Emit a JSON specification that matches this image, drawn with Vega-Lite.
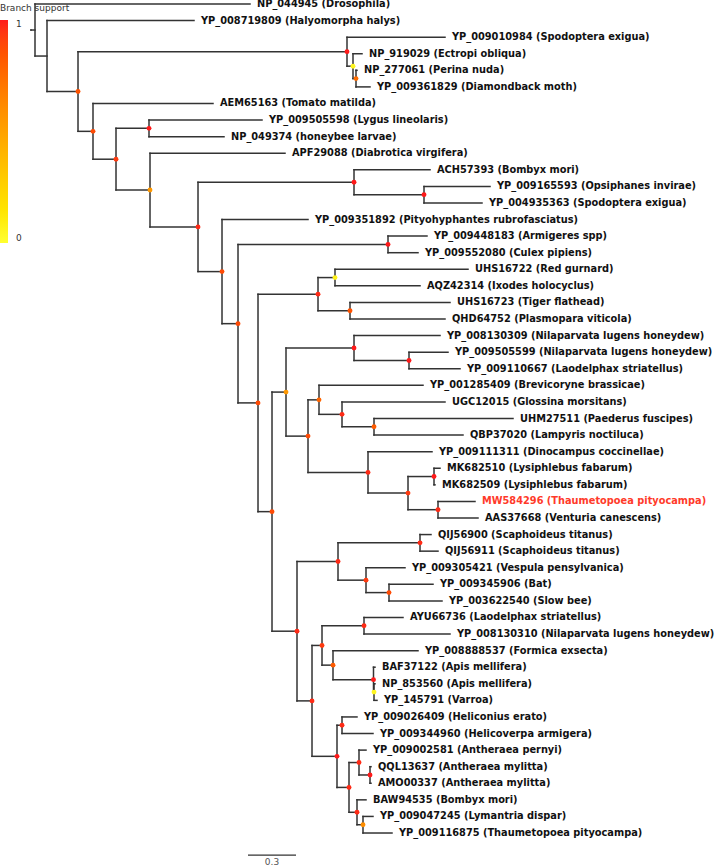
{
  "$schema": "https://vega.github.io/schema/vega-lite/v6.json",
  "width": 714,
  "height": 867,
  "autosize": {"type": "none"},
  "padding": 0,
  "background": "white",
  "view": {"stroke": null},
  "config": {"font": "DejaVu Sans"},
  "datasets": {
    "nodes": [
      {"id": "R0", "parent": null, "x": -0.025, "y": 2.5695, "kind": "root", "support": null},
      {"id": "A", "parent": "R0", "x": 0, "y": 2.5695, "kind": "node", "support": null},
      {"id": "B", "parent": "A", "x": 0.075, "y": 4.1389, "kind": "node", "support": null},
      {"id": "L1", "parent": "A", "x": 1.3438, "y": 1, "kind": "leaf", "name": "NP_044945 (Drosophila)"},
      {"id": "L2", "parent": "B", "x": 0.9938, "y": 2, "kind": "leaf", "name": "YP_008719809 (Halyomorpha halys)"},
      {"id": "C", "parent": "B", "x": 0.2688, "y": 6.2778, "kind": "node", "support": 0.85},
      {"id": "D", "parent": "C", "x": 1.95, "y": 3.875, "kind": "node", "support": 1},
      {"id": "L3", "parent": "D", "x": 2.5625, "y": 3, "kind": "leaf", "name": "YP_009010984 (Spodoptera exigua)"},
      {"id": "AW", "parent": "D", "x": 1.9875, "y": 4.75, "kind": "node", "support": 0.05},
      {"id": "L4", "parent": "AW", "x": 2.0438, "y": 4, "kind": "leaf", "name": "NP_919029 (Ectropi obliqua)"},
      {"id": "AX", "parent": "AW", "x": 2.0063, "y": 5.5, "kind": "node", "support": 0.75},
      {"id": "L5", "parent": "AX", "x": 2.0125, "y": 5, "kind": "leaf", "name": "NP_277061 (Perina nuda)"},
      {"id": "L6", "parent": "AX", "x": 2.0938, "y": 6, "kind": "leaf", "name": "YP_009361829 (Diamondback moth)"},
      {"id": "E", "parent": "C", "x": 0.3625, "y": 8.6806, "kind": "node", "support": 0.88},
      {"id": "L7", "parent": "E", "x": 1.1125, "y": 7, "kind": "leaf", "name": "AEM65163 (Tomato matilda)"},
      {"id": "F", "parent": "E", "x": 0.5063, "y": 10.3612, "kind": "node", "support": 0.93},
      {"id": "G", "parent": "F", "x": 0.7125, "y": 8.5, "kind": "node", "support": 1},
      {"id": "L8", "parent": "G", "x": 1.4188, "y": 8, "kind": "leaf", "name": "YP_009505598 (Lygus lineolaris)"},
      {"id": "L9", "parent": "G", "x": 1.1813, "y": 9, "kind": "leaf", "name": "NP_049374 (honeybee larvae)"},
      {"id": "H", "parent": "F", "x": 0.7188, "y": 12.2224, "kind": "node", "support": 0.55},
      {"id": "L10", "parent": "H", "x": 1.5625, "y": 10, "kind": "leaf", "name": "APF29088 (Diabrotica virgifera)"},
      {"id": "I", "parent": "H", "x": 1.0188, "y": 14.4448, "kind": "node", "support": 0.97},
      {"id": "J", "parent": "I", "x": 1.9938, "y": 11.75, "kind": "node", "support": 1},
      {"id": "L11", "parent": "J", "x": 2.4688, "y": 11, "kind": "leaf", "name": "ACH57393 (Bombyx mori)"},
      {"id": "nL", "parent": "J", "x": 2.4313, "y": 12.5, "kind": "node", "support": 1},
      {"id": "L12", "parent": "nL", "x": 2.8438, "y": 12, "kind": "leaf", "name": "YP_009165593 (Opsiphanes invirae)"},
      {"id": "L13", "parent": "nL", "x": 2.7938, "y": 13, "kind": "leaf", "name": "YP_004935363 (Spodoptera exigua)"},
      {"id": "K", "parent": "I", "x": 1.1688, "y": 17.1396, "kind": "node", "support": 0.88},
      {"id": "L14", "parent": "K", "x": 1.7063, "y": 14, "kind": "leaf", "name": "YP_009351892 (Pityohyphantes rubrofasciatus)"},
      {"id": "M", "parent": "K", "x": 1.2688, "y": 20.2793, "kind": "node", "support": 0.88},
      {"id": "N", "parent": "M", "x": 2.2063, "y": 15.5, "kind": "node", "support": 1},
      {"id": "L15", "parent": "N", "x": 2.45, "y": 15, "kind": "leaf", "name": "YP_009448183 (Armigeres spp)"},
      {"id": "L16", "parent": "N", "x": 2.3938, "y": 16, "kind": "leaf", "name": "YP_009552080 (Culex pipiens)"},
      {"id": "O", "parent": "M", "x": 1.3938, "y": 25.0586, "kind": "node", "support": 0.88},
      {"id": "Q", "parent": "O", "x": 1.7688, "y": 18.5, "kind": "node", "support": 0.97},
      {"id": "R", "parent": "Q", "x": 1.875, "y": 17.5, "kind": "node", "support": 0.08},
      {"id": "L17", "parent": "R", "x": 2.7063, "y": 17, "kind": "leaf", "name": "UHS16722 (Red gurnard)"},
      {"id": "L18", "parent": "R", "x": 2.4063, "y": 18, "kind": "leaf", "name": "AQZ42314 (Ixodes holocyclus)"},
      {"id": "S", "parent": "Q", "x": 1.9688, "y": 19.5, "kind": "node", "support": 0.85},
      {"id": "L19", "parent": "S", "x": 2.5938, "y": 19, "kind": "leaf", "name": "UHS16723 (Tiger flathead)"},
      {"id": "L20", "parent": "S", "x": 2.5625, "y": 20, "kind": "leaf", "name": "QHD64752 (Plasmopara viticola)"},
      {"id": "P", "parent": "O", "x": 1.4813, "y": 31.6172, "kind": "node", "support": 0.88},
      {"id": "T", "parent": "P", "x": 1.5688, "y": 24.4063, "kind": "node", "support": 0.55},
      {"id": "V", "parent": "T", "x": 1.9938, "y": 21.75, "kind": "node", "support": 1},
      {"id": "L21", "parent": "V", "x": 2.5313, "y": 21, "kind": "leaf", "name": "YP_008130309 (Nilaparvata lugens honeydew)"},
      {"id": "X", "parent": "V", "x": 2.3375, "y": 22.5, "kind": "node", "support": 1},
      {"id": "L22", "parent": "X", "x": 2.5813, "y": 22, "kind": "leaf", "name": "YP_009505599 (Nilaparvata lugens honeydew)"},
      {"id": "L23", "parent": "X", "x": 2.6563, "y": 23, "kind": "leaf", "name": "YP_009110667 (Laodelphax striatellus)"},
      {"id": "W", "parent": "T", "x": 1.7063, "y": 27.0625, "kind": "node", "support": 0.88},
      {"id": "Y", "parent": "W", "x": 1.775, "y": 24.875, "kind": "node", "support": 0.78},
      {"id": "L24", "parent": "Y", "x": 2.425, "y": 24, "kind": "leaf", "name": "YP_001285409 (Brevicoryne brassicae)"},
      {"id": "AA", "parent": "Y", "x": 1.9188, "y": 25.75, "kind": "node", "support": 0.97},
      {"id": "L25", "parent": "AA", "x": 2.5625, "y": 25, "kind": "leaf", "name": "UGC12015 (Glossina morsitans)"},
      {"id": "AB", "parent": "AA", "x": 2.1188, "y": 26.5, "kind": "node", "support": 0.82},
      {"id": "L26", "parent": "AB", "x": 2.9875, "y": 26, "kind": "leaf", "name": "UHM27511 (Paederus fuscipes)"},
      {"id": "L27", "parent": "AB", "x": 2.675, "y": 27, "kind": "leaf", "name": "QBP37020 (Lampyris noctiluca)"},
      {"id": "Z", "parent": "W", "x": 2.0813, "y": 29.25, "kind": "node", "support": 0.97},
      {"id": "L28", "parent": "Z", "x": 2.4813, "y": 28, "kind": "leaf", "name": "YP_009111311 (Dinocampus coccinellae)"},
      {"id": "AC", "parent": "Z", "x": 2.3313, "y": 30.5, "kind": "node", "support": 0.93},
      {"id": "AD", "parent": "AC", "x": 2.4938, "y": 29.5, "kind": "node", "support": 1},
      {"id": "L29", "parent": "AD", "x": 2.5313, "y": 29, "kind": "leaf", "name": "MK682510 (Lysiphlebus fabarum)"},
      {"id": "L30", "parent": "AD", "x": 2.5, "y": 30, "kind": "leaf", "name": "MK682509 (Lysiphlebus fabarum)"},
      {"id": "AE", "parent": "AC", "x": 2.5188, "y": 31.5, "kind": "node", "support": 0.97},
      {"id": "L31", "parent": "AE", "x": 2.75, "y": 31, "kind": "leaf", "name": "MW584296 (Thaumetopoea pityocampa)", "hl": true},
      {"id": "L32", "parent": "AE", "x": 2.7688, "y": 32, "kind": "leaf", "name": "AAS37668 (Venturia canescens)"},
      {"id": "U", "parent": "P", "x": 1.6375, "y": 38.8281, "kind": "node", "support": 0.97},
      {"id": "AF", "parent": "U", "x": 1.8938, "y": 34.625, "kind": "node", "support": 0.97},
      {"id": "AH", "parent": "AF", "x": 2.4063, "y": 33.5, "kind": "node", "support": 0.97},
      {"id": "L33", "parent": "AH", "x": 2.475, "y": 33, "kind": "leaf", "name": "QIJ56900 (Scaphoideus titanus)"},
      {"id": "L34", "parent": "AH", "x": 2.5188, "y": 34, "kind": "leaf", "name": "QIJ56911 (Scaphoideus titanus)"},
      {"id": "AI", "parent": "AF", "x": 2.0688, "y": 35.75, "kind": "node", "support": 0.93},
      {"id": "L35", "parent": "AI", "x": 2.3125, "y": 35, "kind": "leaf", "name": "YP_009305421 (Vespula pensylvanica)"},
      {"id": "AJ", "parent": "AI", "x": 2.2125, "y": 36.5, "kind": "node", "support": 0.88},
      {"id": "L36", "parent": "AJ", "x": 2.4875, "y": 36, "kind": "leaf", "name": "YP_009345906 (Bat)"},
      {"id": "L37", "parent": "AJ", "x": 2.5438, "y": 37, "kind": "leaf", "name": "YP_003622540 (Slow bee)"},
      {"id": "AG", "parent": "U", "x": 1.7313, "y": 43.0313, "kind": "node", "support": 0.97},
      {"id": "AK", "parent": "AG", "x": 1.7938, "y": 39.6875, "kind": "node", "support": 0.93},
      {"id": "AM", "parent": "AK", "x": 2.0563, "y": 38.5, "kind": "node", "support": 0.97},
      {"id": "L38", "parent": "AM", "x": 2.3, "y": 38, "kind": "leaf", "name": "AYU66736 (Laodelphax striatellus)"},
      {"id": "L39", "parent": "AM", "x": 2.5938, "y": 39, "kind": "leaf", "name": "YP_008130310 (Nilaparvata lugens honeydew)"},
      {"id": "AN", "parent": "AK", "x": 1.8625, "y": 40.875, "kind": "node", "support": 0.82},
      {"id": "L40", "parent": "AN", "x": 2.3938, "y": 40, "kind": "leaf", "name": "YP_008888537 (Formica exsecta)"},
      {"id": "AO", "parent": "AN", "x": 2.1156, "y": 41.75, "kind": "node", "support": 1},
      {"id": "L41", "parent": "AO", "x": 2.125, "y": 41, "kind": "leaf", "name": "BAF37122 (Apis mellifera)"},
      {"id": "AP", "parent": "AO", "x": 2.1188, "y": 42.5, "kind": "node", "support": 0.05},
      {"id": "L42", "parent": "AP", "x": 2.125, "y": 42, "kind": "leaf", "name": "NP_853560 (Apis mellifera)"},
      {"id": "L43", "parent": "AP", "x": 2.1375, "y": 43, "kind": "leaf", "name": "YP_145791 (Varroa)"},
      {"id": "AL", "parent": "AG", "x": 1.8875, "y": 46.375, "kind": "node", "support": 1},
      {"id": "AQ", "parent": "AL", "x": 1.9188, "y": 44.5, "kind": "node", "support": 0.97},
      {"id": "L44", "parent": "AQ", "x": 2.0125, "y": 44, "kind": "leaf", "name": "YP_009026409 (Heliconius erato)"},
      {"id": "L45", "parent": "AQ", "x": 2.1125, "y": 45, "kind": "leaf", "name": "YP_009344960 (Helicoverpa armigera)"},
      {"id": "AR", "parent": "AL", "x": 1.9625, "y": 48.25, "kind": "node", "support": 0.97},
      {"id": "AS", "parent": "AR", "x": 2.025, "y": 46.75, "kind": "node", "support": 0.97},
      {"id": "L46", "parent": "AS", "x": 2.0688, "y": 46, "kind": "leaf", "name": "YP_009002581 (Antheraea pernyi)"},
      {"id": "AU", "parent": "AS", "x": 2.0938, "y": 47.5, "kind": "node", "support": 1},
      {"id": "L47", "parent": "AU", "x": 2.1, "y": 47, "kind": "leaf", "name": "QQL13637 (Antheraea mylitta)"},
      {"id": "L48", "parent": "AU", "x": 2.1, "y": 48, "kind": "leaf", "name": "AMO00337 (Antheraea mylitta)"},
      {"id": "AT", "parent": "AR", "x": 2.0125, "y": 49.75, "kind": "node", "support": 0.97},
      {"id": "L49", "parent": "AT", "x": 2.0688, "y": 49, "kind": "leaf", "name": "BAW94535 (Bombyx mori)"},
      {"id": "AV", "parent": "AT", "x": 2.05, "y": 50.5, "kind": "node", "support": 0.6},
      {"id": "L50", "parent": "AV", "x": 2.1125, "y": 50, "kind": "leaf", "name": "YP_009047245 (Lymantria dispar)"},
      {"id": "L51", "parent": "AV", "x": 2.2313, "y": 51, "kind": "leaf", "name": "YP_009116875 (Thaumetopoea pityocampa)"}
    ],
    "scalebar": [
      {"x": 1.33125, "x2": 1.63125, "y": 52.33, "label": "0.3", "mid": 1.48125, "ly": 52.72}
    ]
  },
  "layer": [
    {
      "data": {"name": "nodes"},
      "transform": [
        {"filter": "datum.parent != null"},
        {"lookup": "parent", "from": {"data": {"name": "nodes"}, "key": "id", "fields": ["x"]}, "as": ["px"]}
      ],
      "mark": {"type": "rule", "color": "#333333", "strokeWidth": 1.5, "strokeCap": "square"},
      "encoding": {
        "x": {"field": "px", "type": "quantitative", "scale": {"domain": [-0.21875, 4.24375], "nice": false, "zero": false}, "axis": null},
        "x2": {"field": "x"},
        "y": {"field": "y", "type": "quantitative", "scale": {"domain": [0.7587, 53.05], "nice": false, "zero": false, "reverse": true}, "axis": null}
      }
    },
    {
      "data": {"name": "nodes"},
      "transform": [
        {"filter": "datum.parent != null"},
        {"aggregate": [{"op": "min", "field": "y", "as": "y1"}, {"op": "max", "field": "y", "as": "y2"}], "groupby": ["parent"]},
        {"lookup": "parent", "from": {"data": {"name": "nodes"}, "key": "id", "fields": ["x"]}, "as": ["px"]}
      ],
      "mark": {"type": "rule", "color": "#333333", "strokeWidth": 1.5, "strokeCap": "square"},
      "encoding": {
        "x": {"field": "px", "type": "quantitative"},
        "y": {"field": "y1", "type": "quantitative"},
        "y2": {"field": "y2"}
      }
    },
    {
      "data": {"name": "nodes"},
      "transform": [{"filter": "datum.kind == 'node'"}],
      "mark": {"type": "point", "filled": true, "opacity": 1, "size": 24, "shape": "circle"},
      "encoding": {
        "x": {"field": "x", "type": "quantitative"},
        "y": {"field": "y", "type": "quantitative"},
        "fill": {
          "condition": {"test": "datum.support == null", "value": "#000000"},
          "field": "support",
          "type": "quantitative",
          "scale": {"domain": [0, 1], "range": ["#ffff30", "#ff1a1a"]},
          "legend": {
            "orient": "none",
            "legendX": 0,
            "legendY": 4,
            "title": "Branch support",
            "titleFontSize": 9,
            "titleFontWeight": "normal",
            "titleColor": "#333333",
            "titlePadding": 7,
            "gradientLength": 223,
            "gradientThickness": 8,
            "gradientStrokeWidth": 0,
            "labelFontSize": 9,
            "labelColor": "#333333",
            "labelOffset": 8,
            "format": ".0f",
            "values": [0, 1],
            "direction": "vertical"
          }
        }
      }
    },
    {
      "data": {"name": "nodes"},
      "transform": [{"filter": "datum.kind == 'leaf'"}],
      "mark": {"type": "text", "align": "left", "baseline": "middle", "dx": 7, "fontWeight": "bold", "fontSize": 9.8, "font": "DejaVu Sans"},
      "encoding": {
        "x": {"field": "x", "type": "quantitative"},
        "y": {"field": "y", "type": "quantitative"},
        "text": {"field": "name"},
        "color": {"condition": {"test": "datum.hl", "value": "#ff3a2a"}, "value": "#111111"}
      }
    },
    {
      "data": {"name": "scalebar"},
      "mark": {"type": "rule", "color": "#333333", "strokeWidth": 1.2},
      "encoding": {
        "x": {"field": "x", "type": "quantitative"},
        "x2": {"field": "x2"},
        "y": {"field": "y", "type": "quantitative"}
      }
    },
    {
      "data": {"name": "scalebar"},
      "mark": {"type": "text", "align": "center", "baseline": "middle", "fontSize": 9, "color": "#555555"},
      "encoding": {
        "x": {"field": "mid", "type": "quantitative"},
        "y": {"field": "ly", "type": "quantitative"},
        "text": {"field": "label"}
      }
    }
  ]
}
